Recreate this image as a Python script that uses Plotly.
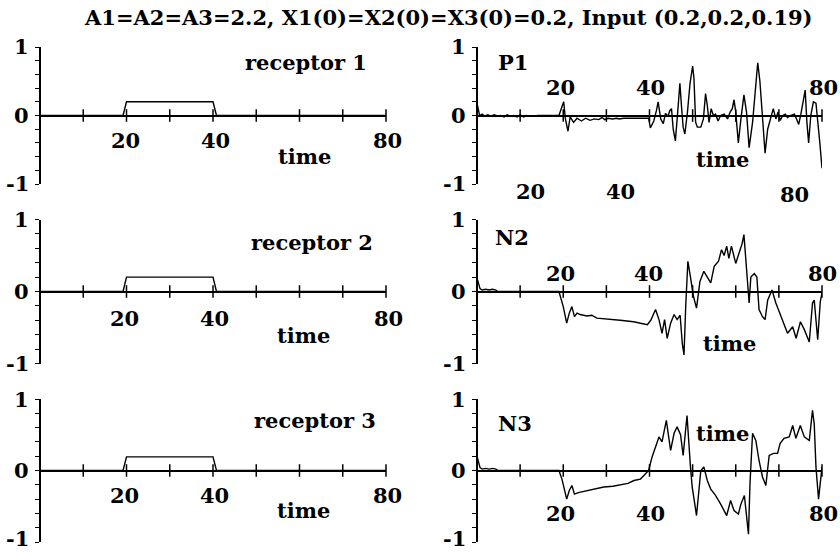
import plotly.graph_objects as go

W, H = 840, 553
FONT = "DejaVu Serif"

# ---- data -------------------------------------------------------------
receptor_t = [0, 19.2, 20, 40, 40.8, 80]
receptor1 = [0, 0, 0.2, 0.2, 0, 0]
receptor2 = [0, 0, 0.2, 0.2, 0, 0]
receptor3 = [0, 0, 0.19, 0.19, 0, 0]

p1_t = [0, 0.6, 1.2, 1.8, 2.5, 3.2, 4.0, 4.8, 5.5, 6.3, 7.0, 7.8, 8.5, 9.3, 10.0,
        10.8, 11.5, 12.3, 13.5, 14.0, 19.0, 19.5, 20.1, 20.5, 20.8, 21.1, 21.6,
        22.4, 23.2, 24.2, 25.2, 26.2, 27.2, 28.2, 29.0, 29.6, 30.4, 31.4, 32.4,
        33.0, 34.0, 36.0, 39.8, 40.2, 41.0, 41.6, 42.0, 42.6, 43.2, 43.7, 44.3,
        44.7, 45.1, 45.5, 46.0, 46.6, 47.05, 47.4, 47.8, 48.2, 48.8, 49.4, 50.0,
        50.3, 50.7, 51.1, 51.9, 52.5, 53.0, 53.4, 53.8, 54.3, 54.8, 55.3, 55.9,
        56.5, 57.3, 58.1, 58.7, 59.2, 59.6, 60.0, 60.6, 61.2, 61.9, 62.5, 63.1,
        63.9, 64.7, 65.1, 65.6, 66.2, 66.8, 67.4, 67.9, 68.7, 69.3, 69.8, 70.3,
        70.9, 71.5, 72.0, 72.8, 73.6, 74.1, 74.6, 75.1, 75.7, 76.1, 76.5, 76.9,
        77.4, 78.0, 78.6, 79.1, 79.5, 80.0]
p1_v = [0.18, 0.0, 0.02, -0.01, 0.01, -0.01, 0.01, -0.01, 0.0, -0.02, 0.01, -0.01,
        0.0, -0.02, 0.01, -0.02, 0.0, -0.01, -0.01, 0.0, 0.0, 0.08, 0.2, -0.05,
        -0.17, -0.23, -0.02, -0.1, -0.04, -0.08, -0.04, -0.07, -0.05, -0.06, -0.03,
        -0.06, -0.04, -0.05, -0.04, -0.05, -0.04, -0.04, -0.04, -0.18, -0.08, 0.07,
        0.2, -0.05, -0.12, 0.03, -0.01, 0.07, 0.1, -0.2, -0.37, 0.1, 0.47, 0.15,
        -0.17, -0.27, 0.05, 0.47, 0.72, 0.55, -0.1, -0.17, -0.17, -0.05, 0.32,
        0.15, -0.1, 0.1, 0.0, 0.02, -0.08, 0.0, 0.02, -0.05, 0.05, 0.1, 0.23, 0.05,
        -0.4, -0.05, 0.3, 0.05, -0.47, -0.1, 0.55, 0.77, 0.5, -0.1, -0.55, -0.2,
        -0.07, 0.1, -0.05, 0.05, -0.07, 0.0, 0.02, -0.03, 0.0, 0.02, -0.05, -0.13,
        0.02, 0.25, 0.37, -0.1, -0.4, 0.0, 0.2, 0.18, -0.12, -0.4, -0.77]

n2_t = [0, 0.7, 1.2, 2.0, 2.8, 3.6, 4.4, 4.8, 19.0, 20.0, 20.8, 21.4, 22.0, 22.6,
        23.2, 23.9, 25.5, 26.6, 27.8, 30.0, 33.2, 36.3, 37.9, 39.5, 40.3, 41.4,
        42.2, 42.9, 43.5, 44.1, 44.9, 45.7, 46.4, 47.1, 47.6, 48.0, 48.4, 48.9,
        49.5, 50.2, 50.9, 51.7, 52.6, 53.4, 54.2, 55.0, 56.0, 56.7, 57.3, 57.9,
        58.4, 59.0, 60.0, 60.9, 61.5, 61.9, 62.6, 63.1, 63.5, 64.3, 64.9, 65.4,
        66.2, 66.8, 67.4, 68.4, 69.3, 70.5, 72.0, 73.2, 74.0, 75.0, 75.9, 77.05,
        77.8, 78.2, 79.0, 79.6, 80.0]
n2_v = [0.19, 0.04, 0.02, 0.03, 0.02, 0.03, 0.02, 0.0, 0.0, -0.21, -0.44, -0.3,
        -0.21, -0.35, -0.3, -0.32, -0.34, -0.33, -0.37, -0.38, -0.4, -0.42, -0.44,
        -0.46, -0.4, -0.25, -0.39, -0.58, -0.39, -0.65, -0.44, -0.32, -0.39, -0.33,
        -0.72, -0.88, -0.2, 0.42, 0.2, -0.07, -0.23, 0.14, 0.28, 0.19, 0.12, 0.35,
        0.42, 0.58, 0.5, 0.63, 0.46, 0.63, 0.39, 0.56, 0.67, 0.79, 0.3, -0.16, 0.2,
        0.25, 0.2, -0.25, -0.35, -0.39, -0.12, 0.02, -0.16, -0.35, -0.58, -0.49,
        -0.65, -0.42, -0.53, -0.7, -0.16, -0.12, -0.67, -0.14, -0.02]

n3_t = [0, 0.7, 1.2, 2.0, 2.8, 3.6, 4.4, 4.8, 19.0, 19.7, 20.8, 21.4, 22.0, 22.6,
        23.5, 25.5, 27.5, 29.4, 31.5, 33.2, 35.0, 36.4, 37.9, 38.7, 39.8, 40.6,
        41.4, 42.2, 42.9, 43.9, 44.9, 45.7, 46.4, 47.2, 47.8, 48.7, 49.5, 49.9,
        50.9, 51.9, 52.6, 53.4, 54.2, 55.35, 56.5, 57.9, 58.8, 59.6, 60.6, 61.2,
        62.0, 62.4, 62.95, 63.3, 63.9, 64.65, 65.4, 66.2, 66.98, 67.75, 68.76,
        69.7, 70.3, 71.2, 72.4, 73.2, 73.95, 74.97, 75.9, 77.05, 77.8, 78.2, 78.6,
        79.2, 79.7, 80.0]
n3_v = [0.2, 0.04, 0.02, 0.03, 0.02, 0.03, 0.02, 0.0, 0.0, -0.12, -0.4, -0.28,
        -0.21, -0.33, -0.31, -0.28, -0.26, -0.23, -0.22, -0.2, -0.18, -0.14, -0.12,
        -0.07, 0.0, 0.19, 0.33, 0.47, 0.4, 0.7, 0.28, 0.52, 0.61, 0.5, 0.21, 0.77,
        0.05, -0.23, -0.63, 0.0, 0.05, -0.14, -0.26, -0.35, -0.47, -0.63, -0.42,
        -0.56, -0.61, -0.47, -0.35, -0.6, -0.89, -0.19, 0.52, 0.42, 0.14, -0.09,
        -0.21, 0.21, 0.24, 0.24, 0.38, 0.45, 0.47, 0.63, 0.45, 0.63, 0.47, 0.42,
        0.84, 0.65, 0.05, -0.4, -0.14, 0.05]

x_ticks = [10, 20, 30, 40, 50, 60, 70, 80]
y_ticks = [-1, -0.8, -0.6, -0.4, -0.2, 0, 0.2, 0.4, 0.6, 0.8, 1]
y_labels = [(-1, "-1"), (0, "0"), (1, "1")]

# ---- layout helpers (pixel -> paper) ---------------------------------
def px(x):
    return x / W


def py(y):
    return 1 - y / H


col_px = [(40, 386), (477, 822)]
row_px = [(47, 184), (219.5, 363.5), (399, 542)]

panels = [
    (0, 0, receptor_t, receptor1),
    (0, 1, p1_t, p1_v),
    (1, 0, receptor_t, receptor2),
    (1, 1, n2_t, n2_v),
    (2, 0, receptor_t, receptor3),
    (2, 1, n3_t, n3_v),
]

label_font = dict(family=FONT, size=21, color="black", weight="bold")

fig = go.Figure()
layout = dict(
    width=W, height=H, autosize=False,
    margin=dict(l=0, r=0, t=0, b=0, pad=0, autoexpand=False),
    paper_bgcolor="white", plot_bgcolor="white",
    showlegend=False,
)
annotations = []

for i, (r, c, t, v) in enumerate(panels, start=1):
    xs = "" if i == 1 else str(i)
    x0, x1 = col_px[c]
    ytop, ybot = row_px[r]
    ydom = [py(ybot), py(ytop)]
    layout["xaxis" + xs] = dict(
        domain=[px(x0), px(x1)], range=[0, 80], anchor="free",
        position=(ydom[0] + ydom[1]) / 2, automargin=False,
        showline=True, linecolor="black", linewidth=1.5,
        showticklabels=False, ticks="", showgrid=False, zeroline=False,
    )
    layout["yaxis" + xs] = dict(
        domain=ydom, range=[-1, 1], anchor="free", position=px(x0),
        automargin=False,
        showline=True, linecolor="black", linewidth=1.5,
        tickmode="array", tickvals=y_ticks, showticklabels=False,
        ticks="outside", ticklen=4, tickwidth=1.3, tickcolor="black",
        showgrid=False, zeroline=False,
    )
    # value labels on the vertical axis (bottom row nudged to stay on the page)
    for val, txt in y_labels:
        lift = 4 if (r == 2 and val == -1) else 0
        annotations.append(dict(
            text=txt, x=px(x0), y=val, xref="paper", yref="y" + xs,
            xanchor="right", yanchor="middle", xshift=-9, yshift=lift,
            showarrow=False, font=label_font,
        ))
    # signal trace
    fig.add_trace(go.Scatter(
        x=t, y=v, mode="lines", xaxis="x" + xs, yaxis="y" + xs,
        line=dict(color="black", width=1.4), cliponaxis=False,
        hoverinfo="skip",
    ))
    # tick marks crossing the time axis
    fig.add_trace(go.Scatter(
        x=x_ticks, y=[0] * len(x_ticks), mode="markers",
        xaxis="x" + xs, yaxis="y" + xs, cliponaxis=False,
        marker=dict(symbol="line-ns", size=9,
                    line=dict(color="black", width=1.5)),
        hoverinfo="skip",
    ))

fig.update_layout(**layout)

# ---- text labels ------------------------------------------------------
labels = [
    ("A1=A2=A3=2.2, X1(0)=X2(0)=X3(0)=0.2, Input (0.2,0.2,0.19)", 448, 18),
    # receptor panels
    ("receptor 1", 306, 63), ("20", 125, 140), ("40", 216, 140),
    ("80", 387, 140), ("time", 304, 156),
    ("receptor 2", 312, 242), ("20", 124, 318), ("40", 215, 318),
    ("80", 388, 318), ("time", 303, 335),
    ("receptor 3", 315, 420), ("20", 124, 495), ("40", 214, 495),
    ("80", 387, 495), ("time", 303, 510),
    # P1
    ("P1", 513, 63), ("20", 560, 88), ("40", 650, 88),
    ("80", 823, 88), ("time", 722, 159),
    ("20", 530, 192), ("40", 620, 192), ("80", 794, 194),
    # N2
    ("N2", 512, 237), ("20", 560, 273), ("40", 648, 273),
    ("80", 822, 273), ("time", 729, 343),
    # N3
    ("N3", 515, 423), ("time", 722, 433), ("20", 560, 513),
    ("40", 650, 513), ("80", 823, 513),
]

for txt, x, y in labels:
    annotations.append(dict(
        text=txt, x=px(x), y=py(y), xref="paper", yref="paper",
        xanchor="center", yanchor="middle", showarrow=False, font=label_font,
    ))

fig.update_layout(annotations=annotations)

fig.write_html("out.html")
